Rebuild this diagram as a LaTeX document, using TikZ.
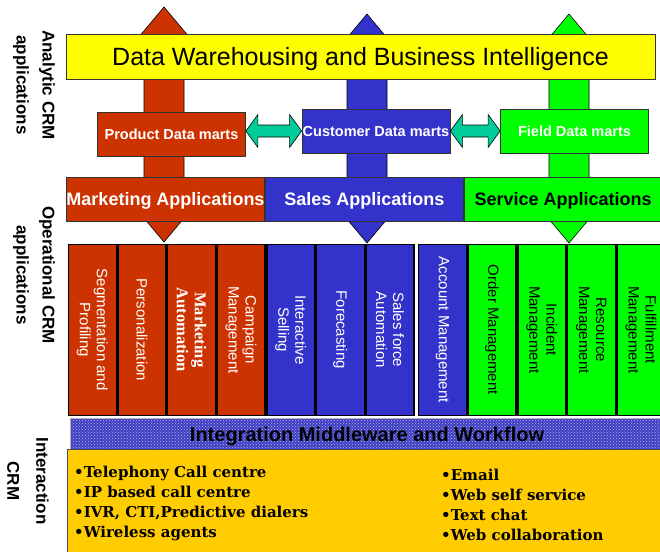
\documentclass[tikz,border=0pt]{standalone}
\usepackage{fontspec}
\setmainfont{Liberation Sans}
\newfontfamily\bulletfont{DejaVu Serif}
\newfontfamily\timesfont{Liberation Serif}
\usetikzlibrary{positioning,calc,patterns}

\definecolor{mktred}{HTML}{CC3300}
\definecolor{salesblue}{HTML}{3333CC}
\definecolor{servgreen}{HTML}{00FF00}
\definecolor{dwyellow}{HTML}{FFFF00}
\definecolor{crmgold}{HTML}{FFCC00}
\definecolor{linkteal}{HTML}{00CC99}
\definecolor{mwblue}{HTML}{4040C4}

\begin{document}
\begin{tikzpicture}[x=1pt, y=-1pt]
        \tikzstyle{box} = [rectangle, draw=black!80, line width=0.8pt, inner sep=0pt, text centered, text depth=0pt]
        \tikzstyle{mart} = [box, minimum width=148pt, minimum height=44pt, text=white, text height=10.4pt, font=\fontsize{14.5}{17}\selectfont\bfseries]
        \tikzstyle{app} = [box, minimum width=198pt, minimum height=44pt, text height=12.9pt, font=\fontsize{18}{21}\selectfont\bfseries]
        \tikzstyle{col} = [rectangle, draw=black, line width=1.6pt, minimum width=48pt, minimum height=171pt, inner sep=0pt]
        \tikzstyle{coltext} = [rotate=-90, align=center, text=white, font=\fontsize{15}{17}\selectfont]
        \tikzstyle{side} = [rotate=-90, align=center, font=\fontsize{17}{26}\selectfont\bfseries]
        \tikzstyle{bigarrow} = [draw=black, line width=0.6pt]
        \tikzstyle{link} = [draw=black, line width=0.6pt, fill=linkteal]
        \tikzstyle{bullets} = [align=left, anchor=north west, inner sep=0pt, font=\bulletfont\fontsize{15}{20}\selectfont\bfseries]

        \useasboundingbox (0,0) rectangle (660,551);

        % tall arrows running behind the boxes
        \draw[bigarrow, fill=mktred] (164,7) -- (195,44) -- (184,44) -- (184,205) -- (195,205) -- (164,242)
            -- (133,205) -- (144,205) -- (144,44) -- (133,44) -- cycle;
        \draw[bigarrow, fill=salesblue] (367,14) -- (398,51) -- (387,51) -- (387,206) -- (398,206) -- (367,243)
            -- (336,206) -- (347,206) -- (347,51) -- (336,51) -- cycle;
        \draw[bigarrow, fill=servgreen] (569,14) -- (600,51) -- (589,51) -- (589,206) -- (600,206) -- (569,243)
            -- (538,206) -- (549,206) -- (549,51) -- (538,51) -- cycle;

        \node [box, fill=dwyellow, minimum width=589pt, minimum height=45pt, text height=17.9pt, font=\fontsize{25}{30}\selectfont] (dw) at (360.5,57) {Data Warehousing and Business Intelligence};

        % data marts
        \node [mart, fill=mktred] (prodmart) at (171.5,134) {Product Data marts};
        \node [mart, fill=salesblue] (custmart) at (376,131) {Customer Data marts};
        \node [mart, fill=servgreen] (fieldmart) at (574.5,131) {Field Data marts};

        \path [link] (prodmart.east |- custmart.west) -- ++(12,-16.5) -- ++(0,10.5) -- ($(custmart.west)+(-12,-6)$) -- ++(0,-10.5)
            -- (custmart.west) -- ++(-12,16.5) -- ++(0,-10.5) -- ($(prodmart.east |- custmart.west)+(12,6)$) -- ++(0,10.5) -- cycle;
        \path [link] (custmart.east) -- ++(12,-16.5) -- ++(0,10.5) -- ($(fieldmart.west)+(-12,-6)$) -- ++(0,-10.5)
            -- (fieldmart.west) -- ++(-12,16.5) -- ++(0,-10.5) -- ($(custmart.east)+(12,6)$) -- ++(0,10.5) -- cycle;

        % application bars
        \node [app, fill=mktred, text=white] (mktapp) at (165.5,199) {Marketing Applications};
        \node [app, fill=salesblue, text=white, right=0pt of mktapp] (salesapp) {Sales Applications};
        \node [app, fill=servgreen, right=0pt of salesapp] (servapp) {Service Applications};

        % operational columns
        \node [col, fill=mktred, anchor=north west, label={[coltext]center:Segmentation and\\Profiling}] (seg) at (67.5,243.5) {};
        \node [col, fill=mktred, right=0pt of seg, label={[coltext]center:Personalization}] (pers) {};
        \node [col, fill=mktred, right=0pt of pers, label={[coltext, font=\timesfont\fontsize{16.5}{18}\selectfont\bfseries]center:Marketing\\Automation}] (mauto) {};
        \node [col, fill=mktred, right=0pt of mauto, label={[coltext]center:Campaign\\Management}] (camp) {};
        \node [col, fill=salesblue, right=0pt of camp, label={[coltext]center:Interactive\\Selling}] (isell) {};
        \node [col, fill=salesblue, right=0pt of isell, label={[coltext]center:Forecasting}] (fcast) {};
        \node [col, fill=salesblue, right=0pt of fcast, label={[coltext]center:Sales force\\Automation}] (sfa) {};
        \node [col, fill=salesblue, right=3pt of sfa, label={[coltext]center:Account Management}] (acct) {};
        \node [col, fill=servgreen, right=0pt of acct, label={[coltext, text=black]center:Order Management}] (order) {};
        \node [col, fill=servgreen, right=0pt of order, label={[coltext, text=black]center:Incident\\Management}] (incid) {};
        \node [col, fill=servgreen, right=0pt of incid, label={[coltext, text=black]center:Resource\\Management}] (resrc) {};
        \node [col, fill=servgreen, right=0pt of resrc, label={[coltext, text=black]center:Fulfillment\\Management}] (fulfil) {};

        \node [box, draw=black!30, minimum width=593pt, minimum height=31pt, fill=mwblue,
            postaction={pattern=crosshatch dots, pattern color=white!60!mwblue},
            text height=14.3pt, font=\fontsize{20}{24}\selectfont\bfseries] (middleware) at (367,434) {Integration Middleware and Workflow};

        % interaction channels
        \node [box, draw=black!70, fill=crmgold, anchor=north west, minimum width=600pt, minimum height=110pt] (channels) at (67,448.5) {};
        \node [bullets] (agents) at (74,466) {•Telephony Call centre\\•IP based call centre\\•IVR, CTI,Predictive dialers\\•Wireless agents};
        \node [bullets] (contact) at (441,469) {•Email\\•Web self service\\•Text chat\\•Web collaboration};

        % layer captions
        \node [side] (analytic) at (34,85) {Analytic CRM\\applications};
        \node [side] (operational) at (34,275) {Operational CRM\\applications};
        \node [side, font=\fontsize{17}{29}\selectfont\bfseries] (interaction) at (28,481) {Interaction\\CRM};
    \end{tikzpicture}
\end{document}
